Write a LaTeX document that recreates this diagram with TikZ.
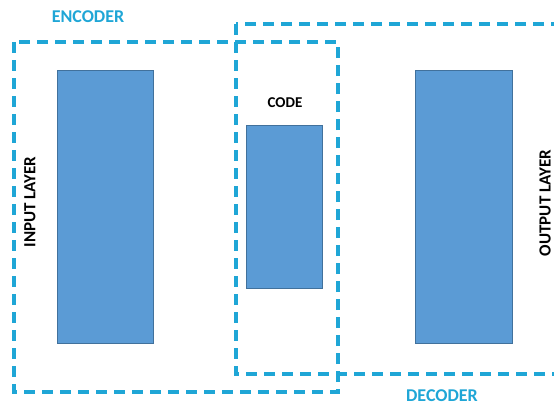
\documentclass[tikz,border=0pt]{standalone}
\usepackage{fontspec}
\setmainfont{Carlito}
\definecolor{dashblue}{HTML}{1FA6D6}
\definecolor{boxfill}{HTML}{5B9BD5}
\definecolor{boxline}{HTML}{41719C}
\begin{document}
\begin{tikzpicture}[x=1pt,y=-1pt,
  layerbox/.style={draw=boxline,fill=boxfill,line width=0.9pt,inner sep=0pt,minimum width=#1},
  groupbox/.style={draw=dashblue,line width=3.4pt,dash pattern=on 11pt off 7pt},
  grouplabel/.style={text=dashblue,font=\bfseries\fontsize{18}{20}\selectfont,inner sep=0pt},
  layerlabel/.style={text=black,font=\bfseries\fontsize{17}{19}\selectfont,inner sep=1pt}]
\useasboundingbox (0,0) rectangle (554,405);
\begin{scope}
\clip (0,0) rectangle (554,405);
% dashed group boxes
\draw[groupbox] (14,42) rectangle (338,392);
\draw[groupbox] (236,24) rectangle (580,374);
\end{scope}
% layers
\node[layerbox=96pt,minimum height=273pt,anchor=north west] (in) at (57,70) {};
\node[layerbox=76pt,minimum height=163pt,anchor=north west] (code) at (246,125) {};
\node[layerbox=97pt,minimum height=273pt,anchor=north west] (out) at (415,70) {};
% labels
\node[grouplabel] (enc) at (88,17) {ENCODER};
\node[grouplabel] (dec) at (442,396) {DECODER};
\node[layerlabel,font=\bfseries\fontsize{15}{17}\selectfont] (codel) at (285,103) {CODE};
\node[layerlabel,rotate=90] (inl) at (30,202) {INPUT LAYER};
\node[layerlabel,rotate=90] (outl) at (545,203) {OUTPUT LAYER};
\end{tikzpicture}
\end{document}
